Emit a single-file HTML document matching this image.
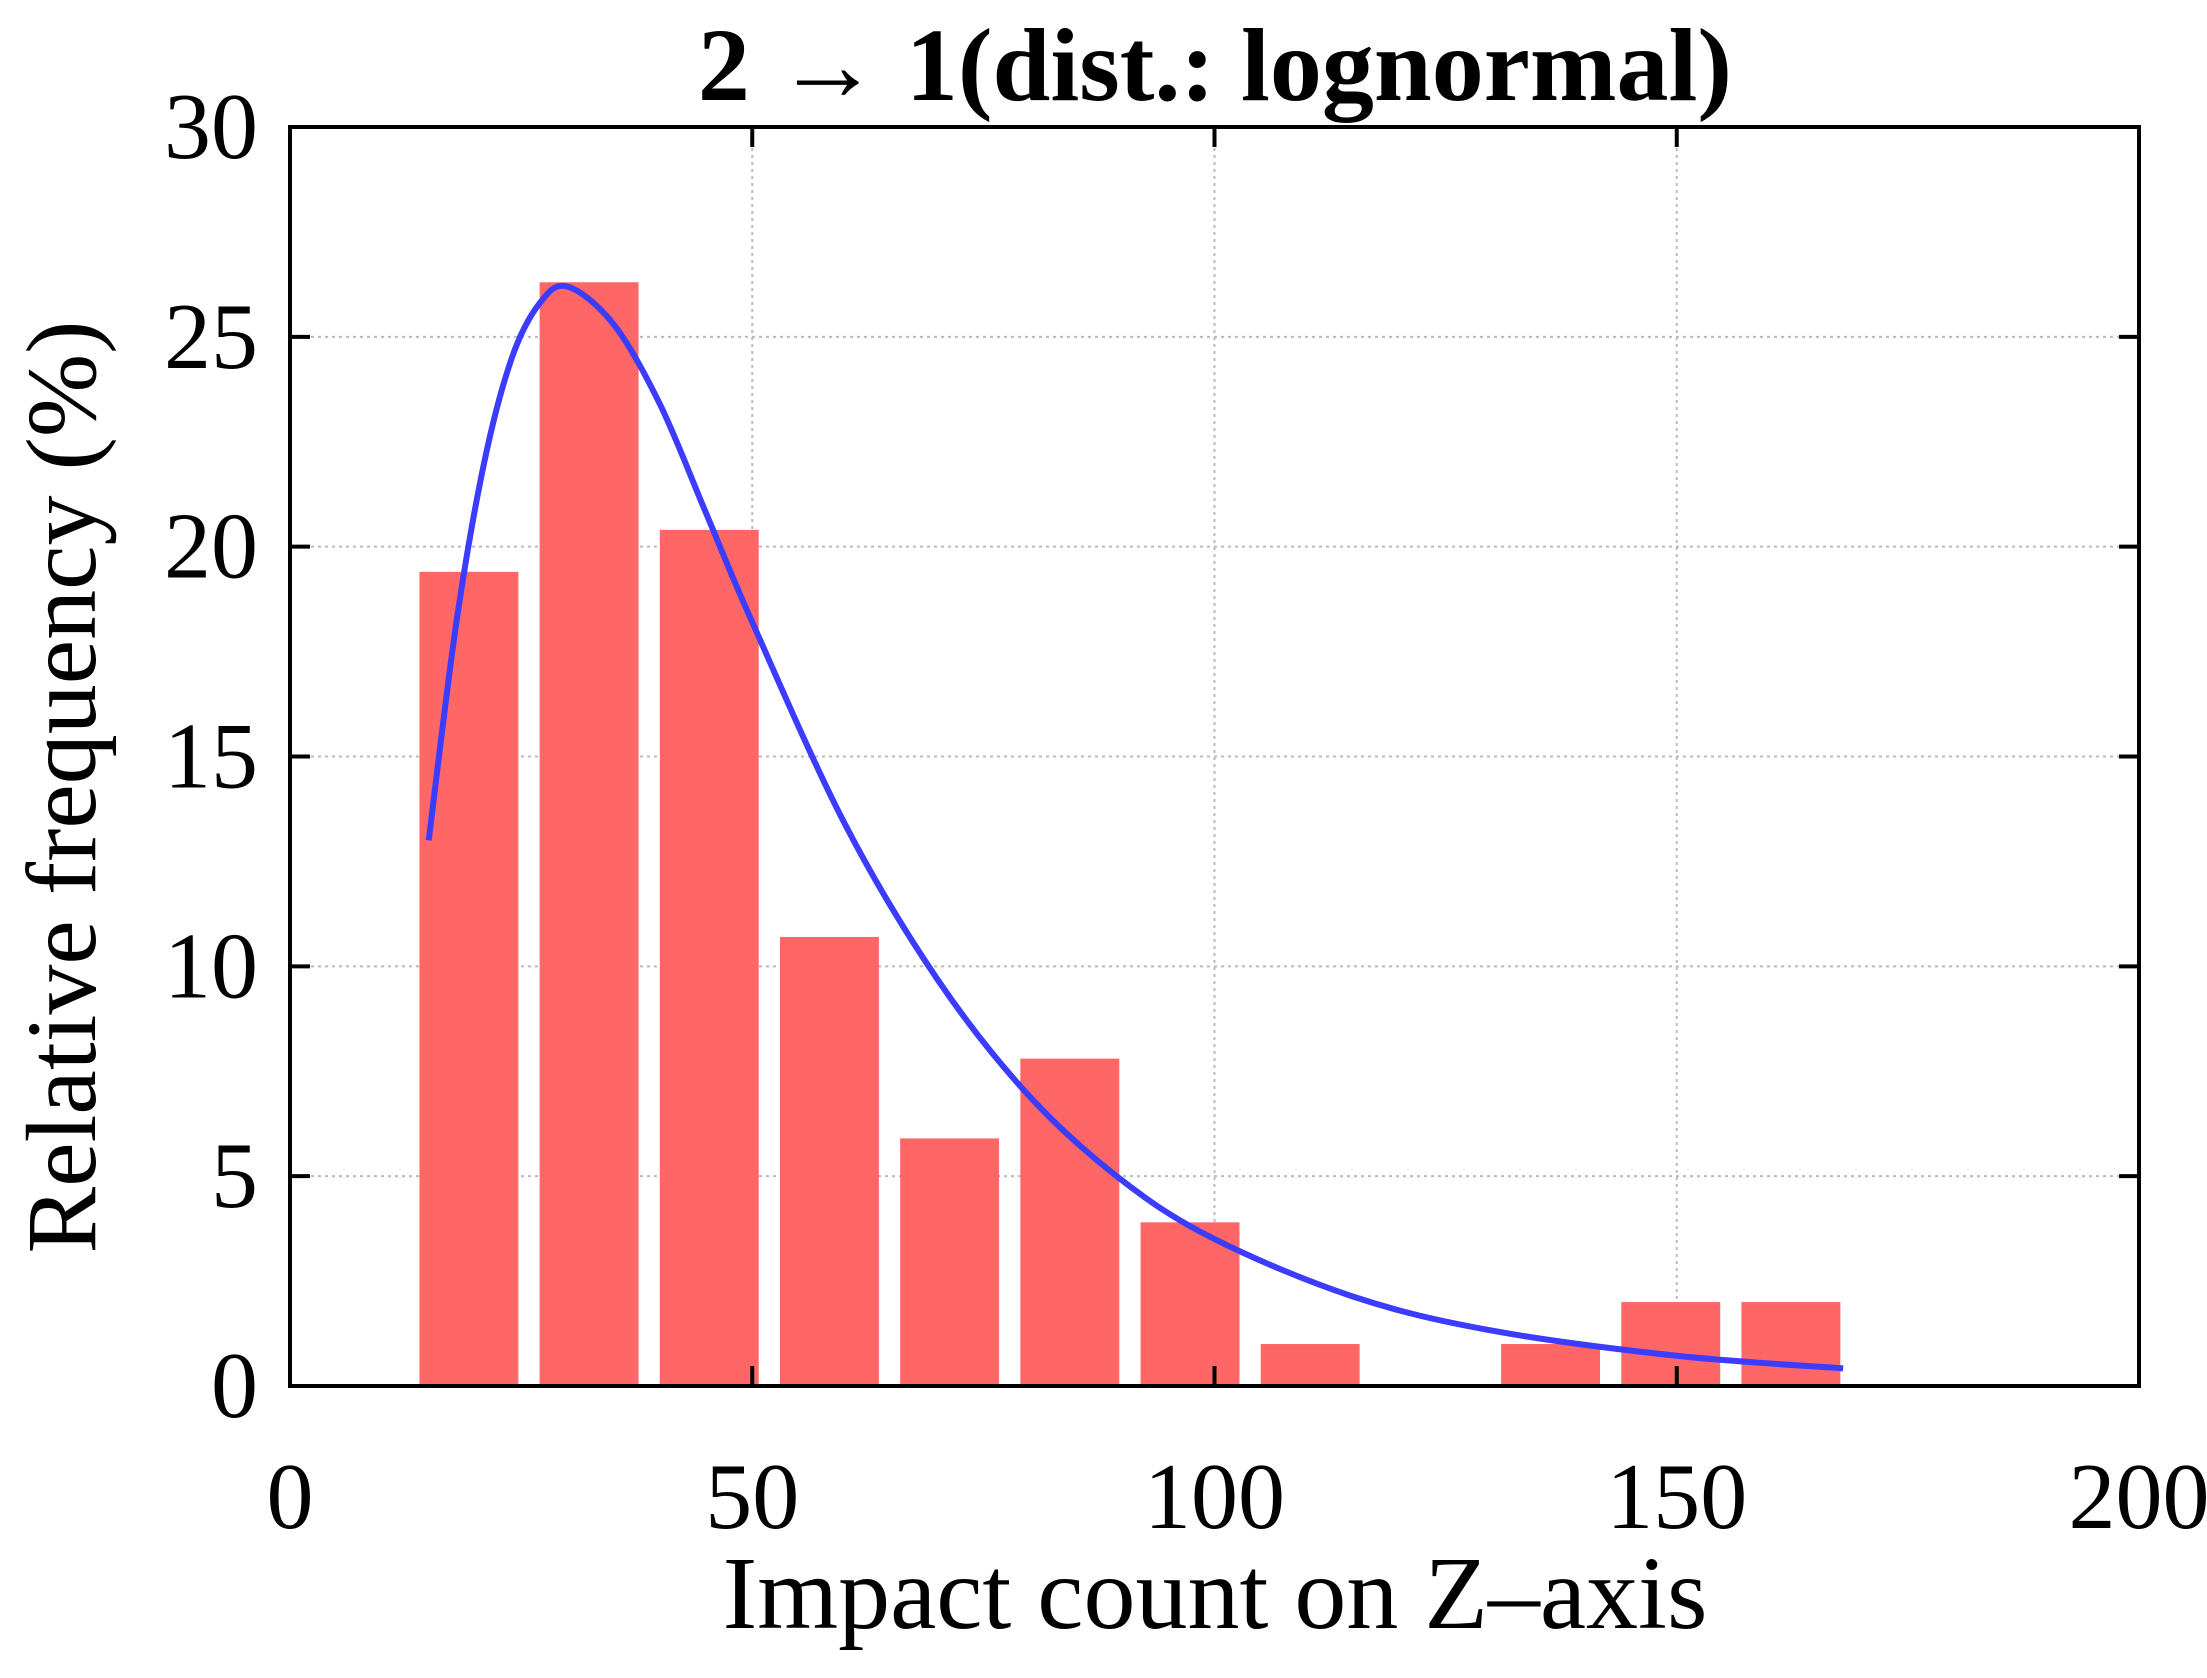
<!DOCTYPE html>
<html><head><meta charset="utf-8"><style>
html,body{margin:0;padding:0;background:#fff;}
svg{display:block;font-family:"Liberation Serif",serif;}
</style></head><body>
<svg id="chart" width="2207" height="1678" viewBox="0 0 2207 1678">
<text x="1215" y="100" text-anchor="middle" font-size="104" font-weight="bold">2 → 1(dist.: lognormal)</text>
<g id="grid"></g>
<g id="bars"></g>
<g id="curve"></g>
<rect x="290" y="127" width="1849" height="1259" fill="none" stroke="#000" stroke-width="4"/>
<g id="ticks"></g>
<text x="1215" y="1628" text-anchor="middle" font-size="104">Impact count on Z–axis</text>
<text transform="translate(95,787) rotate(-90)" text-anchor="middle" font-size="100">Relative frequency (%)</text>
</svg>
<script>
const binStarts = [14, 27, 40, 53, 66, 79, 92, 105, 118, 131, 144, 157];
const binValues = [19.4, 26.3, 20.4, 10.7, 5.9, 7.8, 3.9, 1.0, 0, 1.0, 2.0, 2.0];
const binWidth = 10.7;
const curveX = [15, 18, 21, 24, 27, 30, 35, 40, 45, 50, 60, 70, 80, 90, 100, 115, 130, 150, 168];
const curveY = [13.0, 18.2, 22.0, 24.5, 25.8, 26.2, 25.3, 23.4, 20.8, 18.2, 13.4, 9.7, 6.9, 4.9, 3.5, 2.13, 1.32, 0.72, 0.42];
const xTicks = [0, 50, 100, 150, 200];
const yTicks = [0, 5, 10, 15, 20, 25, 30];

const NS = 'http://www.w3.org/2000/svg';
const L = 290, R = 2139, T = 127, B = 1386;
const sx = v => L + (v - 0) / 200 * (R - L);
const sy = v => B - v / 30 * (B - T);
function mk(tag, attrs, parent) {
  const e = document.createElementNS(NS, tag);
  for (const k in attrs) e.setAttribute(k, attrs[k]);
  parent.appendChild(e);
  return e;
}
const grid = document.getElementById('grid');
const ticks = document.getElementById('ticks');
xTicks.forEach(v => {
  if (v > 0 && v < 200) {
    const g = mk('line', {x1: sx(v), x2: sx(v), y1: T, y2: B, stroke: '#bbb', 'stroke-width': 2, 'stroke-dasharray': '3,4'}, grid);
    
    
    const t1 = mk('line', {x1: sx(v), x2: sx(v), y1: B, y2: B - 20, stroke: '#000', 'stroke-width': 4}, ticks);
    
    
    const t2 = mk('line', {x1: sx(v), x2: sx(v), y1: T, y2: T + 20, stroke: '#000', 'stroke-width': 4}, ticks);
    
    
  }
  const lb = mk('text', {x: sx(v), y: 1528, 'text-anchor': 'middle', 'font-size': 94}, ticks);
  lb.textContent = v;
  
  
});
yTicks.forEach(v => {
  if (v > 0 && v < 30) {
    const g = mk('line', {x1: L, x2: R, y1: sy(v), y2: sy(v), stroke: '#bbb', 'stroke-width': 2, 'stroke-dasharray': '3,4'}, grid);
    
    
    const t1 = mk('line', {x1: L, x2: L + 20, y1: sy(v), y2: sy(v), stroke: '#000', 'stroke-width': 4}, ticks);
    
    
    const t2 = mk('line', {x1: R, x2: R - 20, y1: sy(v), y2: sy(v), stroke: '#000', 'stroke-width': 4}, ticks);
    
    
  }
  const lb = mk('text', {x: 258, y: sy(v) + 31, 'text-anchor': 'end', 'font-size': 94}, ticks);
  lb.textContent = v;
  
  
});
const bars = document.getElementById('bars');
binStarts.forEach((s, i) => {
  const v = binValues[i];
  if (v <= 0) return;
  const r = mk('rect', {x: sx(s), y: sy(v), width: sx(s + binWidth) - sx(s), height: sy(0) - sy(v), fill: '#ff6666'}, bars);
  
  
});
const curve = document.getElementById('curve');
const pts = curveX.map((x, i) => [sx(x), sy(curveY[i])]);
let d = 'M' + pts[0][0] + ',' + pts[0][1];
for (let i = 0; i < pts.length - 1; i++) {
  const p0 = pts[Math.max(0, i - 1)], p1 = pts[i], p2 = pts[i + 1], p3 = pts[Math.min(pts.length - 1, i + 2)];
  const c1x = p1[0] + (p2[0] - p0[0]) / 6, c1y = p1[1] + (p2[1] - p0[1]) / 6;
  const c2x = p2[0] - (p3[0] - p1[0]) / 6, c2y = p2[1] - (p3[1] - p1[1]) / 6;
  d += ' C' + c1x + ',' + c1y + ' ' + c2x + ',' + c2y + ' ' + p2[0] + ',' + p2[1];
}
const path = mk('path', {d: d, fill: 'none', stroke: '#3c3cff', 'stroke-width': 6}, curve);


</script>
</body></html>
